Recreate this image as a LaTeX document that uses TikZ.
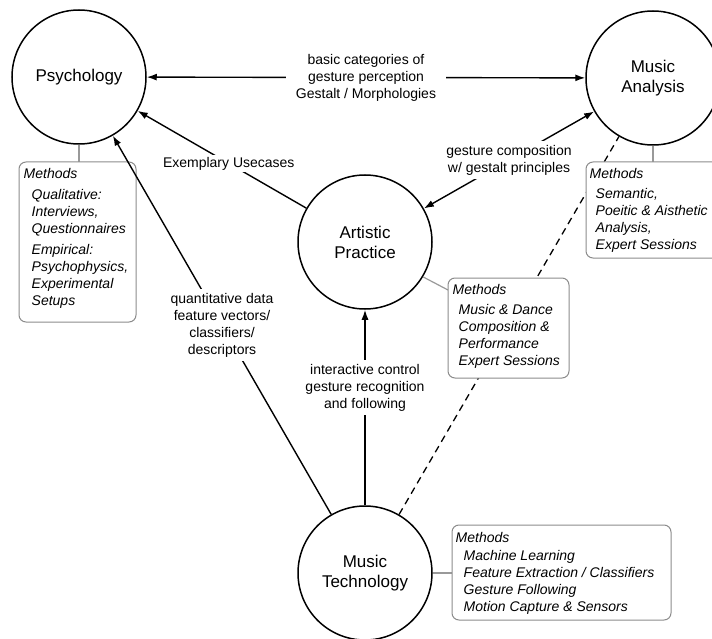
\documentclass[tikz,border=0pt]{standalone}
\usepackage{fontspec}
\setmainfont{Liberation Sans}
\usetikzlibrary{arrows.meta}
\begin{document}
\begin{tikzpicture}[x=1pt,y=-1pt,
  field/.style={circle, draw, line width=1.5pt, minimum size=134pt, inner sep=0pt,
    align=center, font=\fontsize{17}{20}\selectfont},
  link/.style={line width=1.4pt, -{Latex[length=10pt,width=7pt]}},
  biglink/.style={line width=1.4pt, {Latex[length=10pt,width=7pt]}-{Latex[length=10pt,width=7pt]}},
  edgelabel/.style={fill=white, align=center, inner sep=4pt, font=\fontsize{14}{17}\selectfont},
  methodbox/.style={draw=black!45, line width=1pt, rounded corners=7pt, fill=white, inner sep=0pt},
  methodtext/.style={anchor=north west, align=left, inner sep=0pt, font=\fontsize{14}{17}\selectfont\itshape},
  methodlink/.style={draw=black!40, line width=1.2pt},
  sidelink/.style={line width=1.3pt, dash pattern=on 7pt off 5pt}]

\useasboundingbox (0,0) rectangle (712,639);
\clip (0,0) rectangle (712,639);

% the four fields
\node[field] (psy)  at (79,77)   {Psychology};
\node[field] (ana)  at (653,78)  {Music\\Analysis};
\node[field] (art)  at (365,242) {Artistic\\Practice};
\node[field] (tech) at (365,573) {Music\\Technology};

% indirect relation, passing behind the method boxes
\draw[sidelink] (tech) -- (ana);

% links from the fields to their method boxes
\coordinate (m1top) at (79,162);
\coordinate (m2top) at (653,162);
\coordinate (m3in)  at (448,290);
\coordinate (m4in)  at (452,573);
\draw[methodlink] (psy.south) -- (m1top);
\draw[methodlink] (ana.south) -- (m2top);
\draw[methodlink] (art.-31) -- (m3in);
\draw[methodlink] (tech.east) -- (m4in);

% method boxes
\node[methodbox, minimum width=117pt, minimum height=160pt] (m1) at (77.5,242) {};
\node[methodbox, minimum width=134pt, minimum height=96pt]  (m2) at (653,210) {};
\node[methodbox, minimum width=121pt, minimum height=100pt] (m3) at (508.5,328) {};
\node[methodbox, minimum width=219pt, minimum height=95pt]  (m4) at (561.5,572.5) {};

\node[methodtext] (t1) at ([shift={(5,7)}]m1.north west)
  {Methods\\[4pt]
   \hspace*{8pt}Qualitative:\\
   \hspace*{8pt}Interviews,\\
   \hspace*{8pt}Questionnaires\\[4pt]
   \hspace*{8pt}Empirical:\\
   \hspace*{8pt}Psychophysics,\\
   \hspace*{8pt}Experimental\\
   \hspace*{8pt}Setups};
\node[methodtext] (t2) at ([shift={(4,7)}]m2.north west)
  {Methods\\[3pt]
   \hspace*{6pt}Semantic,\\
   \hspace*{6pt}Poeitic \& Aisthetic\\
   \hspace*{6pt}Analysis,\\
   \hspace*{6pt}Expert Sessions};
\node[methodtext] (t3) at ([shift={(5,7)}]m3.north west)
  {Methods\\[3pt]
   \hspace*{6pt}Music \& Dance\\
   \hspace*{6pt}Composition \&\\
   \hspace*{6pt}Performance\\
   \hspace*{6pt}Expert Sessions};
\node[methodtext] (t4) at ([shift={(4,8)}]m4.north west)
  {Methods\\[1pt]
   \hspace*{8pt}Machine Learning\\
   \hspace*{8pt}Feature Extraction / Classifiers\\
   \hspace*{8pt}Gesture Following\\
   \hspace*{8pt}Motion Capture \& Sensors};

% relations between the fields
\draw[biglink] (psy) -- (ana)
  node[edgelabel, inner xsep=10pt, midway] (l1) {basic categories of\\gesture perception\\Gestalt / Morphologies};
\draw[link] (art) -- (psy)
  node[edgelabel, inner sep=2pt, pos=0.46] (l2) {Exemplary Usecases};
\draw[biglink] (art) -- (ana)
  node[edgelabel, midway] (l3) {gesture composition\\w/ gestalt principles};
\draw[link] (tech) -- (psy)
  node[edgelabel, midway] (l4) {quantitative data\\feature vectors/\\classifiers/\\descriptors};
\draw[link] (tech) -- (art)
  node[edgelabel, pos=0.6] (l5) {interactive control\\gesture recognition\\and following};
\end{tikzpicture}
\end{document}
